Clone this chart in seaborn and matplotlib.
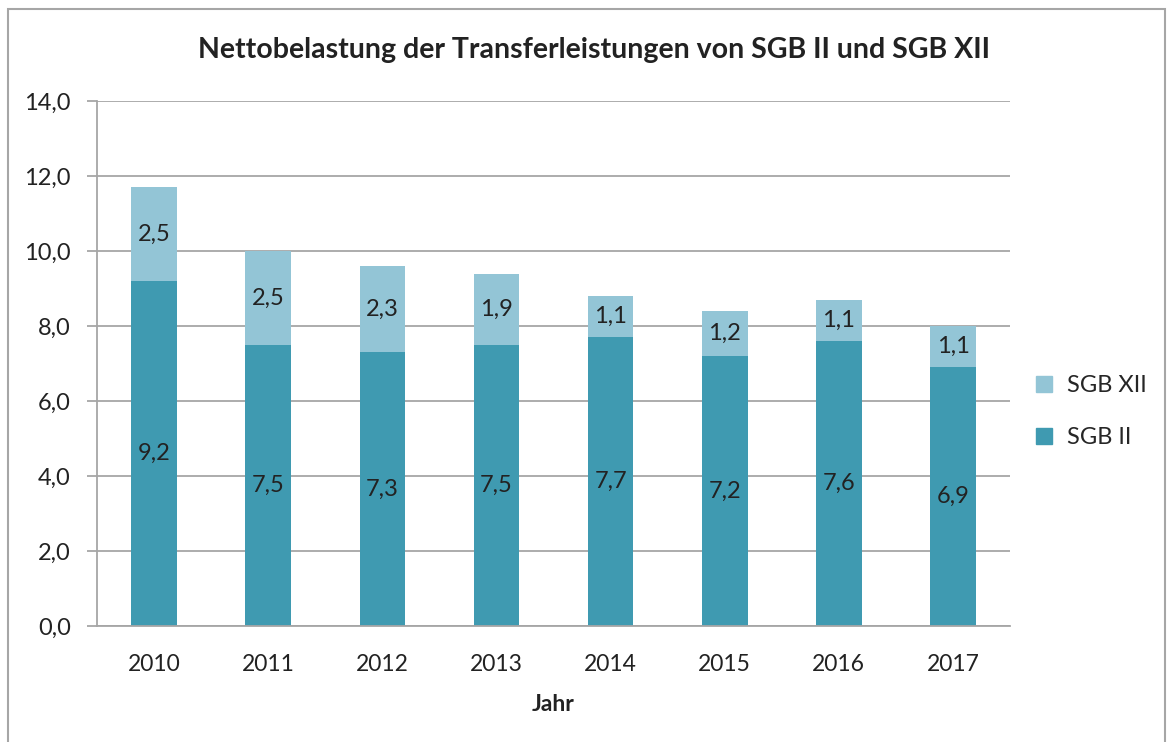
import matplotlib
matplotlib.use("Agg")
import matplotlib.pyplot as plt
import seaborn as sns
import pandas as pd
from matplotlib.patches import Patch, Rectangle

years = ["2010", "2011", "2012", "2013", "2014", "2015", "2016", "2017"]
sgb2 = [9.2, 7.5, 7.3, 7.5, 7.7, 7.2, 7.6, 6.9]
sgb12 = [2.5, 2.5, 2.3, 1.9, 1.1, 1.2, 1.1, 1.1]

c_dark = "#3f9ab1"
c_light = "#93c5d6"

sns.set_style("white")
plt.rcParams["font.family"] = ["Lato", "DejaVu Sans"]

df = pd.DataFrame({"Jahr": years, "SGB II": sgb2, "SGB XII": sgb12})
df["Gesamt"] = df["SGB II"] + df["SGB XII"]

fig = plt.figure(figsize=(11.69, 7.42), dpi=100)
ax = fig.add_axes([0.083, 0.156, 0.781, 0.708])

sns.barplot(data=df, x="Jahr", y="Gesamt", color=c_light, width=0.4,
            saturation=1, linewidth=0, ax=ax)
sns.barplot(data=df, x="Jahr", y="SGB II", color=c_dark, width=0.4,
            saturation=1, linewidth=0, ax=ax)

# value labels
for i, (a, b) in enumerate(zip(sgb2, sgb12)):
    ax.text(i, a / 2, f"{a:.1f}".replace(".", ","), ha="center", va="center",
            fontsize=17, color="#222222")
    ax.text(i, a + b / 2, f"{b:.1f}".replace(".", ","), ha="center", va="center",
            fontsize=17, color="#222222")

ax.set_ylim(0, 14)
ax.set_xlim(-0.5, len(years) - 0.5)
ax.set_yticks([0, 2, 4, 6, 8, 10, 12, 14])
ax.set_yticklabels([f"{v:.1f}".replace(".", ",") for v in ax.get_yticks()],
                   fontsize=17, color="#222222")
ax.yaxis.grid(True, color="#a6a6a6", linewidth=1.3)
ax.set_axisbelow(True)
ax.set_xticks(range(len(years)))
ax.set_xticklabels(years, fontsize=16.5, color="#222222")
ax.tick_params(axis="x", length=0, pad=20)
ax.set_xticks([i - 0.5 for i in range(len(years) + 1)], minor=True)
ax.tick_params(axis="x", which="minor", length=8, width=1.3, color="#a6a6a6",
               direction="out")
ax.tick_params(axis="y", length=7, width=1.3, color="#a6a6a6", pad=12, left=True)
for s in ["top", "right"]:
    ax.spines[s].set_visible(False)
for s in ["left", "bottom"]:
    ax.spines[s].set_color("#a6a6a6")
    ax.spines[s].set_linewidth(1.3)
ax.set_ylabel("")
ax.set_xlabel("Jahr", fontsize=16.5, fontweight="bold", labelpad=14, color="#222222")

fig.text(0.508, 0.933, "Nettobelastung der Transferleistungen von SGB II und SGB XII",
         ha="center", va="center", fontsize=20.5, fontweight="bold", color="#222222")

handles = [Patch(color=c_light, label="SGB XII"), Patch(color=c_dark, label="SGB II")]
fig.legend(handles=handles, loc="center left", bbox_to_anchor=(0.868, 0.445),
           frameon=False, fontsize=17, handlelength=0.7, handleheight=0.7,
           labelspacing=1.3, handletextpad=0.6)

fig.patches.append(Rectangle((0.007, -0.01), 0.99, 0.998, transform=fig.transFigure,
                             fill=False, edgecolor="#a6a6a6", linewidth=1.5))

fig.savefig("out.png", dpi=100)
